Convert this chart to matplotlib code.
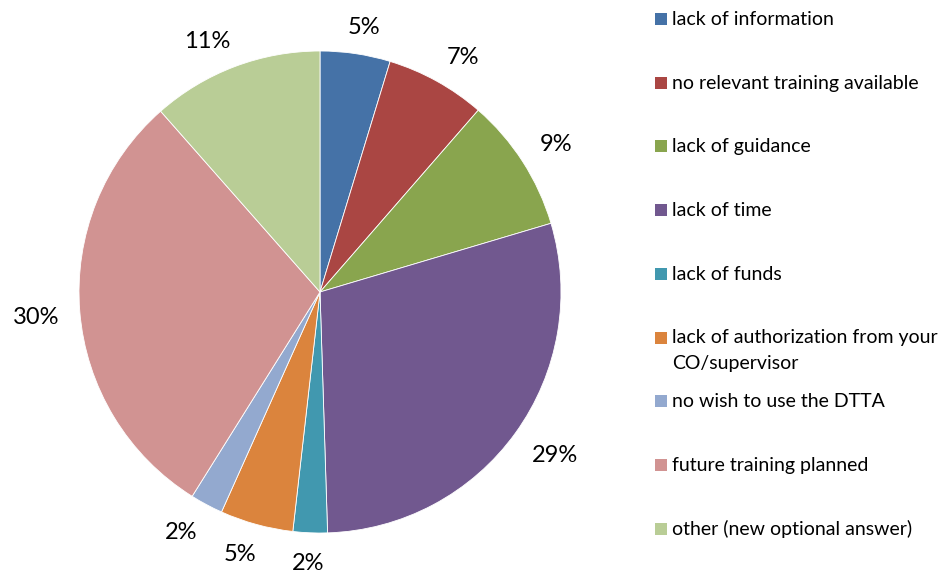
import numpy as np
import matplotlib.pyplot as plt
from matplotlib.patches import Rectangle

plt.rcParams['font.family'] = ['Lato', 'DejaVu Sans']

categories = ['lack of information', 'no relevant training available', 'lack of guidance',
              'lack of time', 'lack of funds',
              'lack of authorization from your\nCO/supervisor',
              'no wish to use the DTTA', 'future training planned',
              'other (new optional answer)']
values = [4.7, 6.7, 9.0, 29.1, 2.3, 4.9, 2.2, 29.6, 11.5]
pct_labels = ['5%', '7%', '9%', '29%', '2%', '5%', '2%', '30%', '11%']
colors = ['#4572A7', '#AA4643', '#89A54E', '#71588F', '#4198AF',
          '#DB843D', '#93A9CF', '#D19392', '#B9CD96']

W, H = 947, 574
R_PX = 241
fig = plt.figure(figsize=(W / 100, H / 100), dpi=100)
ax = fig.add_axes([79 / W, 41 / H, 2 * R_PX / W, 2 * R_PX / H])
wedges, texts = ax.pie(values, labels=pct_labels, colors=colors, startangle=90,
                       counterclock=False, labeldistance=1.1,
                       wedgeprops=dict(edgecolor='white', linewidth=0.6),
                       textprops=dict(fontsize=17, color='black'))
ax.set_xlim(-1, 1)
ax.set_ylim(-1, 1)
ax.set_aspect('equal')

# place labels the way Excel does: box anchored on the mid-angle ray,
# anchor point sliding round the box with the angle
for t in texts:
    t.set_horizontalalignment('center')
    t.set_verticalalignment('baseline')
fig.canvas.draw()
rend = fig.canvas.get_renderer()
d = 261
half_h = 8.5
k = 2.5
for w, t in zip(wedges, texts):
    th = np.deg2rad((w.theta1 + w.theta2) / 2)
    ux, uy = np.cos(th), np.sin(th)
    hw = t.get_window_extent(rend).width / 2
    sx = np.clip(k * ux, -1, 1)
    sy = np.clip(k * uy, -1, 1)
    cx = d * ux + hw * sx
    cy = d * uy + half_h * sy
    t.set_position((cx / R_PX, (cy - half_h) / R_PX))

# legend drawn by hand, Excel style
for i, (cat, col) in enumerate(zip(categories, colors)):
    yc = 19 + i * 63.7
    fig.add_artist(Rectangle((655 / W, 1 - (yc + 6) / H), 12 / W, 12 / H,
                             facecolor=col, edgecolor='none', transform=fig.transFigure))
    for j, line in enumerate(cat.split('\n')):
        fig.text(672 / W, 1 - (yc + 6 + 25 * j) / H, line, fontsize=14,
                 va='baseline', ha='left')

fig.savefig('out.png', dpi=100)
